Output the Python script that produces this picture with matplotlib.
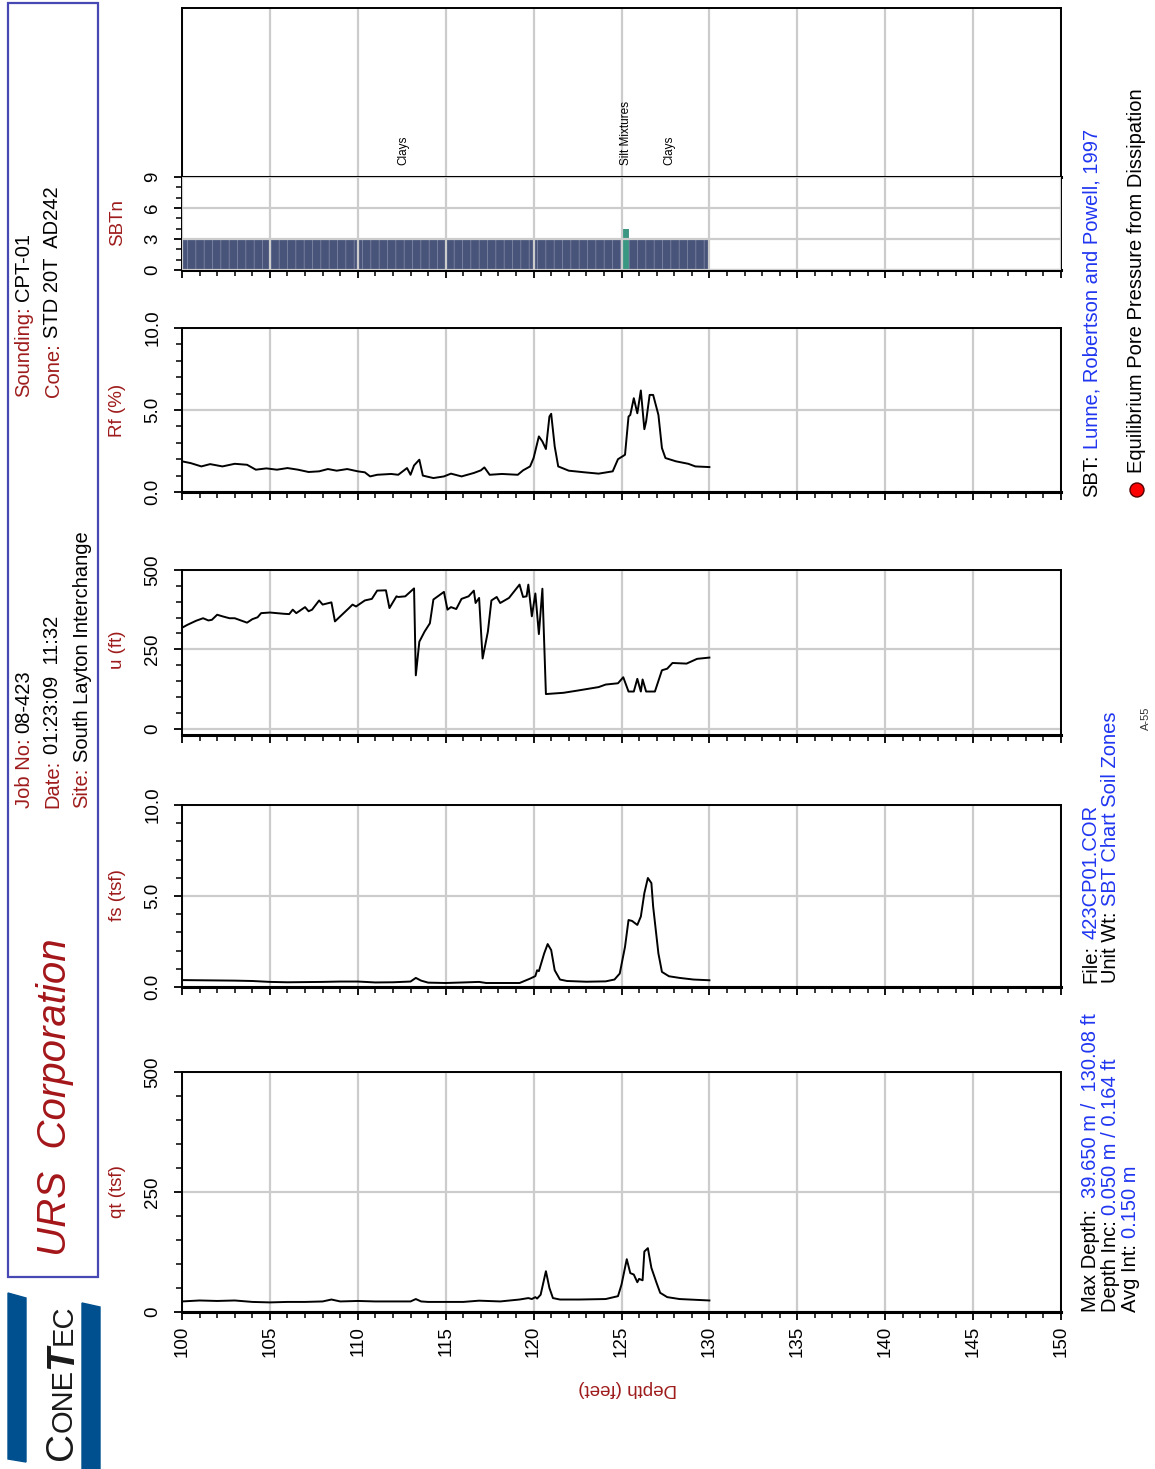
import matplotlib
matplotlib.use('Agg')
import matplotlib.pyplot as plt
from matplotlib.ticker import MultipleLocator, FormatStrFormatter
from matplotlib.patches import Rectangle, Polygon, Circle

plt.rcParams['font.family'] = ['Liberation Sans', 'DejaVu Sans']
plt.rcParams['hatch.linewidth'] = 0.5

rf_depth = [100.0, 100.5, 101.1, 101.6, 102.3, 103.0, 103.7, 104.2, 104.8, 105.4, 106.0, 106.6, 107.2, 107.8,
            108.3, 108.8, 109.4, 110.0, 110.4, 110.7, 111.1, 111.9, 112.3, 112.8, 113.0, 113.2, 113.5, 113.7,
            114.3, 114.9, 115.3, 115.9, 116.6, 117.0, 117.2, 117.5, 118.2, 119.1, 119.4, 119.8, 120.0, 120.3,
            120.5, 120.7, 120.9, 121.0, 121.2, 121.4, 122.0, 122.9, 123.7, 124.5, 124.8, 125.2, 125.4, 125.5,
            125.7, 125.9, 126.1, 126.3, 126.4, 126.6, 126.8, 127.1, 127.3, 127.5, 128.1, 128.8, 129.2, 130.0]
rf_val = [1.87, 1.76, 1.56, 1.70, 1.56, 1.72, 1.66, 1.36, 1.44, 1.36, 1.46, 1.36, 1.22, 1.26,
          1.40, 1.30, 1.40, 1.26, 1.20, 0.95, 1.05, 1.10, 1.05, 1.46, 1.05, 1.62, 1.97, 1.00,
          0.85, 0.95, 1.12, 0.95, 1.16, 1.32, 1.50, 1.05, 1.10, 1.05, 1.32, 1.56, 2.07, 3.39,
          3.08, 2.62, 4.60, 4.77, 2.78, 1.56, 1.30, 1.20, 1.12, 1.26, 2.00, 2.27, 4.60, 4.70,
          5.72, 4.80, 6.19, 3.83, 4.30, 5.92, 5.92, 4.70, 2.68, 2.07, 1.87, 1.72, 1.56, 1.52]

u_depth = [100.0, 100.3, 100.8, 101.2, 101.5, 101.7, 102.0, 102.3, 102.7, 103.0, 103.4, 103.7, 104.0, 104.3,
           104.5, 105.0, 105.4, 105.8, 106.1, 106.3, 106.5, 107.0, 107.2, 107.4, 107.8, 108.0, 108.5, 108.7,
           109.1, 109.5, 109.7, 109.9, 110.4, 110.8, 111.1, 111.6, 111.8, 112.2, 112.3, 112.7, 113.2, 113.3,
           113.5, 113.8, 114.1, 114.3, 114.9, 115.1, 115.3, 115.6, 115.9, 116.3, 116.6, 116.7, 116.9, 117.1,
           117.4, 117.6, 117.9, 118.1, 118.6, 119.2, 119.4, 119.6, 119.7, 119.9, 120.1, 120.3, 120.5, 120.7,
           121.7, 122.5, 123.7, 124.1, 124.8, 125.1, 125.4, 125.7, 125.9, 126.1, 126.2, 126.4, 126.9, 127.3,
           127.6, 127.9, 128.7, 129.3, 130.0]
u_val = [318, 327, 340, 348, 341, 343, 359, 354, 348, 348, 340, 334, 345, 351,
         364, 366, 364, 362, 361, 375, 364, 383, 370, 375, 404, 391, 398, 338,
         359, 380, 391, 385, 404, 409, 435, 436, 380, 417, 415, 417, 442, 168,
         274, 306, 332, 407, 431, 375, 383, 377, 409, 417, 435, 396, 412, 221,
         306, 404, 415, 396, 412, 454, 415, 417, 454, 354, 426, 298, 441, 109,
         113, 120, 131, 139, 143, 162, 117, 117, 157, 117, 155, 117, 117, 184,
         189, 207, 205, 220, 224]

fs_depth = [100.0, 101.0, 102.0, 103.0, 104.0, 105.0, 106.0, 107.0, 108.0, 109.0, 110.0, 111.0, 112.0, 113.0,
            113.3, 113.6, 114.0, 115.0, 116.0, 116.9, 117.3, 119.2, 119.8, 120.1, 120.2, 120.3, 120.6, 120.8,
            121.0, 121.2, 121.5, 121.9, 123.0, 124.1, 124.6, 124.9, 125.2, 125.4, 125.6, 125.9, 126.1, 126.3,
            126.5, 126.7, 126.8, 127.1, 127.3, 127.7, 128.3, 129.1, 130.0]
fs_val = [0.38, 0.37, 0.36, 0.35, 0.33, 0.28, 0.26, 0.27, 0.28, 0.30, 0.30, 0.25, 0.26, 0.30,
          0.50, 0.35, 0.24, 0.22, 0.25, 0.28, 0.22, 0.22, 0.46, 0.60, 0.92, 0.87, 1.84, 2.36,
          2.03, 0.92, 0.41, 0.33, 0.29, 0.31, 0.41, 0.74, 2.21, 3.68, 3.63, 3.41, 3.87, 5.16,
          5.99, 5.71, 4.42, 1.84, 0.83, 0.59, 0.50, 0.41, 0.37]

qt_depth = [100.0, 101.0, 102.0, 103.0, 104.0, 105.0, 106.0, 107.0, 108.0, 108.5, 109.0, 110.0, 111.0, 112.0,
            113.0, 113.3, 113.6, 114.0, 115.0, 116.0, 116.9, 118.1, 119.2, 119.7, 119.9, 120.1, 120.2, 120.4,
            120.7, 120.9, 121.1, 121.5, 122.6, 124.1, 124.8, 125.0, 125.3, 125.5, 125.7, 125.9, 126.0, 126.2,
            126.3, 126.5, 126.7, 127.0, 127.2, 127.6, 128.3, 130.0]
qt_val = [22, 24, 23, 24, 21, 20, 21, 21, 22, 26, 22, 23, 22, 22,
          22, 27, 22, 21, 21, 21, 23.6, 22, 26, 29, 27, 31, 28, 36,
          85, 50, 29, 26, 26, 27, 33, 57, 110, 81, 78, 62, 69, 66,
          126, 133, 92, 60, 40, 31, 27, 24]

# SBTn layers (top depth, bottom depth, zone)
sbt_top = [100.0, 125.1, 125.45]
sbt_bot = [125.1, 125.45, 130.0]
sbt_zone = [3, 4, 3]
sbt_colors = ['#48547a', '#3a9782', '#48547a']

soil_depth = [112.6, 125.25, 127.7]
soil_names = ['Clays', 'Silt Mixtures', 'Clays']

W, H = 1155, 1469
DARKRED = '#9e1b1b'
BLUE = '#1f35f0'
TXT = 14.5

fig = plt.figure(figsize=(W / 100, H / 100), dpi=100)


def panel(top, bottom):
    return fig.add_axes([182 / W, 1 - bottom / H, (1061 - 182) / W, (bottom - top) / H])


ax_lab = panel(8, 177)
ax_sbt = panel(177, 270)
ax_rf = panel(328, 492)
ax_u = panel(570, 735)
ax_fs = panel(805, 987)
ax_qt = panel(1072, 1312)

for ax in [ax_lab, ax_sbt, ax_rf, ax_u, ax_fs, ax_qt]:
    ax.set_xlim(100, 150)
    ax.xaxis.set_major_locator(MultipleLocator(5))
    ax.xaxis.set_minor_locator(MultipleLocator(1))
    ax.tick_params(axis='x', which='major', direction='out', length=6, width=1.3, labelbottom=False)
    ax.tick_params(axis='x', which='minor', direction='out', length=4, width=1.1)
    ax.grid(True, which='major', color='#cccccc', lw=1.6)
    for s in ax.spines.values():
        s.set_linewidth(1.4)
    ax.spines['bottom'].set_linewidth(2.2)

# label strip
ax_lab.set_ylim(0, 1)
ax_lab.set_yticks([])
for d, name in zip(soil_depth, soil_names):
    ax_lab.text(d, 0.07, name, rotation=90, rotation_mode='anchor', ha='left', va='center', fontsize=8.5)


def value_axis(ax, lo, hi, major, minor, fmt):
    ax.set_ylim(lo, hi)
    ax.yaxis.set_major_locator(MultipleLocator(major))
    ax.yaxis.set_minor_locator(MultipleLocator(minor))
    ax.yaxis.set_major_formatter(FormatStrFormatter(fmt))
    ax.tick_params(axis='y', which='major', direction='out', length=6, width=1.3, labelsize=13.5, pad=9)
    ax.tick_params(axis='y', which='minor', direction='out', length=4, width=1.1)
    for lab in ax.get_yticklabels():
        lab.set_rotation(90)
        lab.set_va('center')


value_axis(ax_sbt, 0, 9, 3, 1, '%d')
value_axis(ax_rf, 0, 10, 5, 1, '%.1f')
value_axis(ax_u, -20, 500, 250, 50, '%d')
value_axis(ax_fs, 0, 10, 5, 1, '%.1f')
value_axis(ax_qt, 0, 500, 250, 50, '%d')

# SBTn bars
ax_sbt.set_axisbelow(False)
for t, b, z, c in zip(sbt_top, sbt_bot, sbt_zone, sbt_colors):
    ax_sbt.bar(t, z, width=b - t, align='edge', color=c, edgecolor='#8990ab', linewidth=0, hatch='||', zorder=1)

for ax, d, v in [(ax_rf, rf_depth, rf_val), (ax_u, u_depth, u_val), (ax_fs, fs_depth, fs_val), (ax_qt, qt_depth, qt_val)]:
    ax.plot(d, v, color='black', lw=1.4, zorder=3)

ax_qt.tick_params(axis='x', which='major', labelbottom=True, labelsize=13.5, labelrotation=90, pad=4)

# ---- overlay for the page annotations (pixel coordinates) ----
ov = fig.add_axes([0, 0, 1, 1])
ov.set_xlim(0, W)
ov.set_ylim(H, 0)
ov.axis('off')
rend = fig.canvas.get_renderer()


def up_text(x, y, pieces, size=TXT):
    # text running upward from (x, y); pieces = (text, color, extra kwargs)
    for s, color, kw in pieces:
        kw = dict(kw)
        fs_ = kw.pop('size', size)
        va = kw.pop('va', 'center')
        lead = len(s) - len(s.lstrip(' '))
        y -= lead * 0.278 * fs_ * 100 / 72
        t = ov.text(x, y, s.strip(), color=color, fontsize=fs_, rotation=90,
                    rotation_mode='anchor', ha='left', va=va, **kw)
        y -= t.get_window_extent(rend).height


ov.add_patch(Rectangle((8, 3), 90, 1274, fill=False, edgecolor='#4848b4', lw=1.6))
up_text(24, 397, [('Sounding:', DARKRED, {}), (' CPT-01', 'black', {})])
up_text(53, 397, [('Cone:', DARKRED, {}), (' STD 20T  AD242', 'black', {})])
up_text(24, 808, [('Job No:', DARKRED, {}), (' 08-423', 'black', {})])
up_text(53, 808, [('Date:', DARKRED, {}), (' 01:23:09  11:32', 'black', {})])
up_text(82, 808, [('Site:', DARKRED, {}), (' South Layton Interchange', 'black', {})])
up_text(55, 1256, [('URS  Corporation', '#a3161a', {'style': 'italic'})], size=29)

# ConeTec logo
ov.add_patch(Polygon([(8, 1293), (26, 1298), (26, 1462), (8, 1459)], closed=True, color='#00508f'))
ov.add_patch(Polygon([(82, 1303), (100, 1307), (100, 1469), (82, 1469)], closed=True, color='#00508f'))
up_text(72, 1460, [('C', '#1a1a1a', {'va': 'baseline'}), ('ONE', '#1a1a1a', {'va': 'baseline', 'size': 21}),
                   ('T', '#1a1a1a', {'va': 'baseline', 'style': 'italic', 'weight': 'bold'}),
                   ('EC', '#1a1a1a', {'va': 'baseline', 'size': 21})], size=28)

# panel titles
for name, yc in [('SBTn', 222), ('Rf (%)', 410), ('u (ft)', 650), ('fs (tsf)', 895), ('qt (tsf)', 1192)]:
    ov.text(118, yc, name, color=DARKRED, fontsize=13.5, rotation=90, ha='center', va='center')

ov.text(628, 1388, 'Depth (feet)', color=DARKRED, fontsize=13.5, rotation=180, ha='center', va='center')

# right-hand notes
up_text(1092, 497, [('SBT:', 'black', {}), (' Lunne, Robertson and Powell, 1997', BLUE, {})])
ov.add_patch(Circle((1137, 490), 7, facecolor='#ff0000', edgecolor='#550000', lw=1))
up_text(1137, 473, [('Equilibrium Pore Pressure from Dissipation', 'black', {})])
up_text(1091, 983, [('File:', 'black', {}), (' 423CP01.COR', BLUE, {})])
up_text(1111, 983, [('Unit Wt:', 'black', {}), (' SBT Chart Soil Zones', BLUE, {})])
up_text(1091, 1312, [('Max Depth:', 'black', {}), ('  39.650 m /  130.08 ft', BLUE, {})])
up_text(1111, 1312, [('Depth Inc:', 'black', {}), (' 0.050 m / 0.164 ft', BLUE, {})])
up_text(1131, 1312, [('Avg Int:', 'black', {}), (' 0.150 m', BLUE, {})])
ov.text(1146, 718, 'A-55', fontsize=8, rotation=90, ha='center', va='center', color='#333333')

fig.savefig('out.png', dpi=100)
